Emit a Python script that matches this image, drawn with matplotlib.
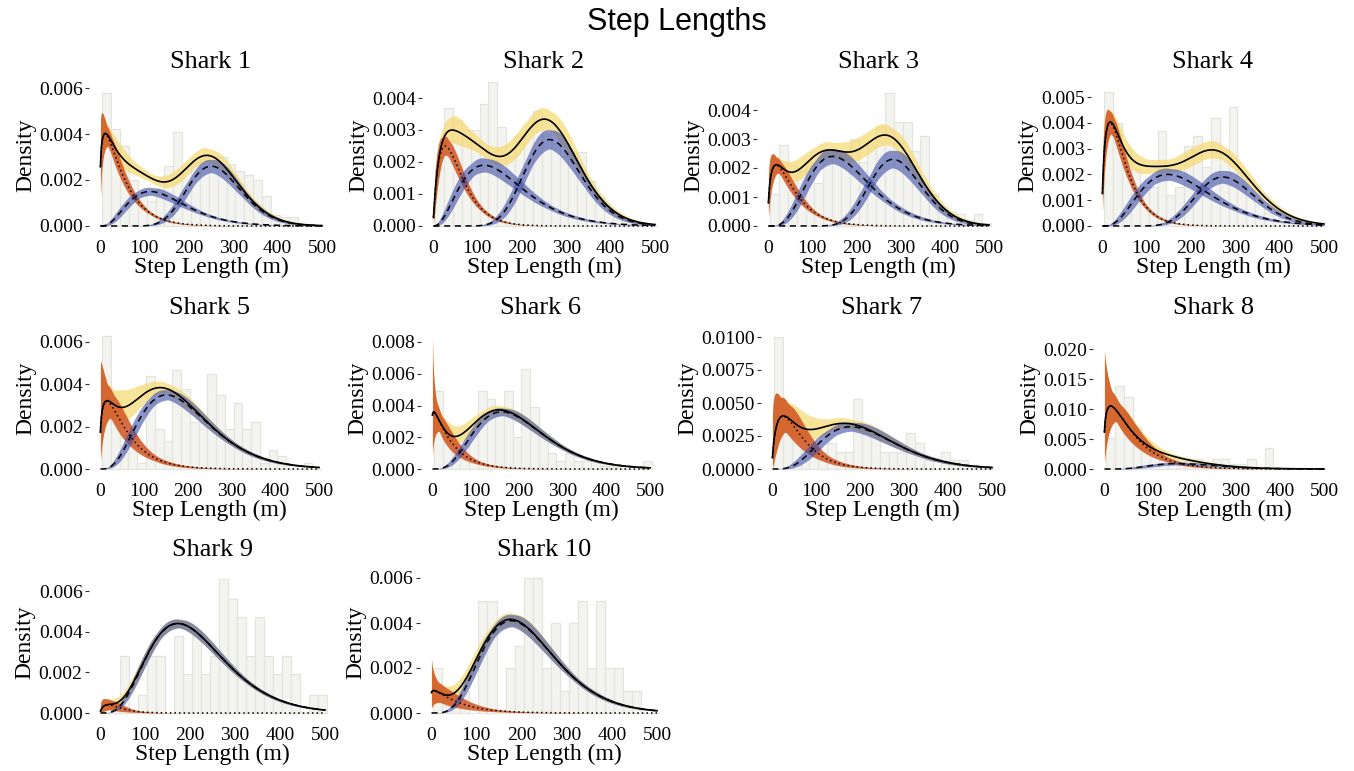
import math
import numpy as np
import matplotlib.pyplot as plt

# histogram heights (density), 20 m bins starting at 5 m
hist_1 = [0.0058, 0.0042, 0.0035, 0.0020, 0.0014, 0.0011, 0.0016, 0.0026, 0.0041, 0.0025, 0.0028, 0.0030, 0.0031,
          0.0030, 0.0027, 0.0024, 0.0022, 0.0020, 0.0013, 0.0005, 0.0004, 0.0004, 0.0001, 0.0001, 0.0000]
hist_2 = [0.0018, 0.0037, 0.0033, 0.0030, 0.0030, 0.0038, 0.0045, 0.0031, 0.0022, 0.0028, 0.0030, 0.0036, 0.0030,
          0.0026, 0.0022, 0.0023, 0.0023, 0.0014, 0.0009, 0.0005, 0.0003, 0.0002, 0.0001, 0.0001, 0.0000]
hist_3 = [0.0011, 0.0028, 0.0021, 0.0019, 0.0022, 0.0015, 0.0024, 0.0026, 0.0023, 0.0030, 0.0022, 0.0028, 0.0034,
          0.0046, 0.0036, 0.0036, 0.0026, 0.0031, 0.0011, 0.0006, 0.0005, 0.0004, 0.0002, 0.0004, 0.0001]
hist_4 = [0.0052, 0.0040, 0.0030, 0.0022, 0.0015, 0.0015, 0.0037, 0.0012, 0.0015, 0.0031, 0.0035, 0.0023, 0.0042,
          0.0029, 0.0046, 0.0021, 0.0012, 0.0008, 0.0005, 0.0003, 0.0002, 0.0001, 0.0001, 0.0000, 0.0000]
hist_5 = [0.0063, 0.0030, 0.0016, 0.0016, 0.0003, 0.0044, 0.0019, 0.0013, 0.0047, 0.0038, 0.0022, 0.0022, 0.0045,
          0.0035, 0.0019, 0.0031, 0.0019, 0.0022, 0.0003, 0.0009, 0.0006, 0.0000, 0.0000, 0.0003, 0.0000]
hist_6 = [0.0049, 0.0025, 0.0015, 0.0015, 0.0025, 0.0049, 0.0044, 0.0034, 0.0049, 0.0020, 0.0063, 0.0039, 0.0020,
          0.0010, 0.0005, 0.0010, 0.0005, 0.0005, 0.0005, 0.0002, 0.0002, 0.0002, 0.0000, 0.0000, 0.0005]
hist_7 = [0.0100, 0.0047, 0.0037, 0.0025, 0.0010, 0.0013, 0.0020, 0.0013, 0.0013, 0.0053, 0.0027, 0.0027, 0.0013,
          0.0013, 0.0013, 0.0027, 0.0020, 0.0007, 0.0000, 0.0013, 0.0007, 0.0007, 0.0000, 0.0000, 0.0000]
hist_8 = [0.0052, 0.0138, 0.0120, 0.0068, 0.0035, 0.0035, 0.0017, 0.0017, 0.0017, 0.0017, 0.0017, 0.0009, 0.0017,
          0.0017, 0.0009, 0.0009, 0.0017, 0.0000, 0.0035, 0.0000, 0.0000, 0.0000, 0.0000, 0.0000, 0.0000]
hist_9 = [0.0000, 0.0000, 0.0028, 0.0000, 0.0009, 0.0028, 0.0028, 0.0000, 0.0038, 0.0019, 0.0038, 0.0019, 0.0028,
          0.0066, 0.0056, 0.0047, 0.0028, 0.0047, 0.0028, 0.0019, 0.0028, 0.0019, 0.0000, 0.0009, 0.0009]
hist_10 = [0.0020, 0.0010, 0.0010, 0.0010, 0.0000, 0.0050, 0.0050, 0.0000, 0.0020, 0.0030, 0.0060, 0.0060, 0.0020,
           0.0040, 0.0010, 0.0040, 0.0050, 0.0020, 0.0050, 0.0020, 0.0020, 0.0010, 0.0010, 0.0000, 0.0000]
hists = [hist_1, hist_2, hist_3, hist_4, hist_5, hist_6, hist_7, hist_8, hist_9, hist_10]

# fitted gamma states per shark: mean (m), sd (m), peak density of weighted curve
state_means = [[50, 150, 265], [56, 160, 278], [55, 180, 295], [48, 192, 288], [58, 195],
               [45, 200], [61, 220], [65, 200], [40, 215], [60, 215]]
state_sds = [[44, 75, 62], [40, 85, 65], [45, 78, 60], [38, 92, 68], [50, 92],
             [43, 90], [47, 95], [57, 80], [30, 95], [57, 90]]
state_peaks = [[0.0040, 0.0015, 0.0026], [0.0025, 0.0019, 0.0027], [0.0021, 0.0024, 0.0023],
               [0.0040, 0.0020, 0.0019], [0.0032, 0.0035], [0.0036, 0.0036], [0.0040, 0.0032],
               [0.0105, 0.0009], [0.0004, 0.0044], [0.0010, 0.0041]]
# relative uncertainty of (mean, sd, weight) per state, gives the CI bands
state_unc = [[(0.03, 0.05, 0.08), (0.03, 0.04, 0.08), (0.02, 0.04, 0.07)],
             [(0.04, 0.04, 0.08), (0.03, 0.04, 0.08), (0.02, 0.04, 0.07)],
             [(0.04, 0.05, 0.09), (0.03, 0.04, 0.07), (0.02, 0.04, 0.09)],
             [(0.03, 0.04, 0.08), (0.03, 0.04, 0.08), (0.02, 0.04, 0.09)],
             [(0.06, 0.08, 0.18), (0.03, 0.03, 0.04)],
             [(0.08, 0.08, 0.18), (0.03, 0.03, 0.04)],
             [(0.08, 0.08, 0.25), (0.04, 0.05, 0.06)],
             [(0.08, 0.08, 0.15), (0.06, 0.06, 0.20)],
             [(0.08, 0.06, 0.60), (0.02, 0.02, 0.03)],
             [(0.04, 0.08, 0.45), (0.02, 0.03, 0.04)]]

titles = ["Shark %d" % (i + 1) for i in range(10)]
ytick_max = [0.006, 0.004, 0.004, 0.005, 0.006, 0.008, 0.01, 0.02, 0.006, 0.006]
ytick_step = [0.002, 0.001, 0.001, 0.001, 0.002, 0.002, 0.0025, 0.005, 0.002, 0.002]

# panel layout in pixels: x of 0 m, x of 500 m, y of density 0, y of top tick
px_x0 = [100, 433, 768, 1102, 100, 432, 772, 1104, 100, 431]
px_x500 = [322, 655, 989, 1324, 319, 650, 992, 1324, 325, 657]
px_y0 = [226, 226, 226, 226, 469, 469, 469, 469, 713, 713]
px_ytop = [88, 98, 110, 97, 342, 342, 337, 349, 591, 578]
title_y = [62, 62, 62, 62, 308, 308, 308, 308, 550, 550]

W, H = 1354, 771
plt.rcParams['font.family'] = ['Liberation Serif', 'DejaVu Serif']

x = np.linspace(1, 500, 500)


def gamma_pdf(x, mu, sd):
    k = (mu / sd) ** 2
    th = sd ** 2 / mu
    return np.exp((k - 1) * np.log(x) - x / th - math.lgamma(k) - k * np.log(th))


fig = plt.figure(figsize=(W / 100, H / 100), dpi=100)
fig.text(0.5, 1 - 22 / H, "Step Lengths", ha='center', va='center', fontsize=22,
         family='Liberation Sans')

for i in range(10):
    ppm = (px_x500[i] - px_x0[i]) / 500.0
    left = px_x0[i] - 25 * ppm
    right = px_x500[i] + 25 * ppm
    ppu = (px_y0[i] - px_ytop[i]) / ytick_max[i]
    bot = px_y0[i] + 7
    top = px_y0[i] - 148
    ax = fig.add_axes([left / W, 1 - bot / H, (right - left) / W, (bot - top) / H])
    ax.set_xlim(-25, 525)
    ax.set_ylim(-7 / ppu, 148 / ppu)

    edges = 5 + 20 * np.arange(len(hists[i]))
    ax.bar(edges, hists[i], width=20, align='edge', color='#F3F3F0', edgecolor='#E4E4DE',
           linewidth=0.9, zorder=1)

    mids, los, his = [], [], []
    for mu, sd, pk, (dm, ds, dw) in zip(state_means[i], state_sds[i], state_peaks[i], state_unc[i]):
        base = gamma_pdf(x, mu, sd)
        w = pk / base.max()
        curves = []
        for a in (-1, 0, 1):
            for b in (-1, 0, 1):
                p = gamma_pdf(x, mu * (1 + a * dm), sd * (1 + b * ds))
                for c in (-1, 1):
                    curves.append(w * (1 + c * dw) * p)
        curves = np.array(curves)
        mids.append(w * base)
        los.append(curves.min(axis=0))
        his.append(curves.max(axis=0))

    total = np.sum(mids, axis=0)
    t_lo = total - np.sqrt(np.sum([(m - l) ** 2 for m, l in zip(mids, los)], axis=0))
    t_hi = total + np.sqrt(np.sum([(h - m) ** 2 for m, h in zip(mids, his)], axis=0))
    t_lo = np.clip(t_lo, 0, None)

    ax.fill_between(x, t_lo, t_hi, color='#F6D96E', alpha=0.7, lw=0, zorder=2)
    ax.fill_between(x, los[0], his[0], color='#D0531F', alpha=0.85, lw=0, zorder=3)
    for j in range(1, len(mids)):
        ax.fill_between(x, los[j], his[j], color='#3D4DA8', alpha=0.6, lw=0, zorder=4)

    ax.plot(x, mids[0], color='black', lw=1.1, linestyle=(0, (1, 2)), zorder=5)
    for j in range(1, len(mids)):
        ax.plot(x, mids[j], color='black', lw=1.1, linestyle=(0, (4, 3)), zorder=5)
    ax.plot(x, total, color='black', lw=1.2, zorder=6)

    yt = np.arange(0, ytick_max[i] + 1e-9, ytick_step[i])
    ax.set_yticks(yt)
    fmt = "%.4f" if i == 6 else "%.3f"
    ax.set_yticklabels([fmt % v for v in yt])
    ax.set_xticks([0, 100, 200, 300, 400, 500])
    ax.tick_params(axis='y', length=3, width=0.8, color='#333333', labelsize=14, pad=1.5)
    ax.tick_params(axis='x', length=0, labelsize=14, pad=5)
    for s in ax.spines.values():
        s.set_visible(False)
    ax.set_xlabel("Step Length (m)", fontsize=17, labelpad=0)
    ax.set_ylabel("Density", fontsize=17, labelpad=2)
    fig.text((px_x0[i] + px_x500[i]) / 2 / W, 1 - title_y[i] / H, titles[i], ha='center',
             va='center', fontsize=19)

fig.savefig("out.png", dpi=100, facecolor='white')
